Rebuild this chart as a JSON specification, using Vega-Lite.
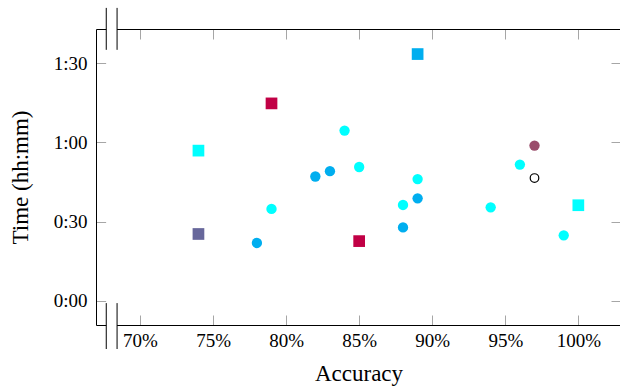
{
  "$schema": "https://vega.github.io/schema/vega-lite/v6.json",
  "width": 525,
  "height": 296,
  "autosize": {"type": "none"},
  "padding": {"left": 96, "top": 29, "right": 0, "bottom": 63},
  "background": "white",
  "config": {
    "view": {"stroke": null},
    "axis": {
      "labelFont": "Liberation Serif",
      "titleFont": "Liberation Serif",
      "labelFontSize": 19,
      "titleFontSize": 23,
      "titleFontWeight": "normal",
      "labelColor": "black",
      "titleColor": "black",
      "domainColor": "black",
      "domainWidth": 1,
      "tickColor": "#a6a6a6",
      "tickSize": -10,
      "tickWidth": 1,
      "grid": false
    }
  },
  "datasets": {
    "points": [
      {"acc": 89, "time": 93.5, "group": "blue", "kind": "square"},
      {"acc": 79, "time": 74.8, "group": "red", "kind": "square"},
      {"acc": 74, "time": 56.9, "group": "cyan", "kind": "square"},
      {"acc": 74, "time": 25.3, "group": "slate", "kind": "square"},
      {"acc": 85, "time": 22.6, "group": "red", "kind": "square"},
      {"acc": 100, "time": 36.2, "group": "cyan", "kind": "square"},
      {"acc": 84, "time": 64.5, "group": "cyan", "kind": "circle"},
      {"acc": 97, "time": 58.8, "group": "maroon", "kind": "circle"},
      {"acc": 85, "time": 50.7, "group": "cyan", "kind": "circle"},
      {"acc": 96, "time": 51.6, "group": "cyan", "kind": "circle"},
      {"acc": 83, "time": 49.1, "group": "blue", "kind": "circle"},
      {"acc": 82, "time": 47.1, "group": "blue", "kind": "circle"},
      {"acc": 89, "time": 46.1, "group": "cyan", "kind": "circle"},
      {"acc": 97, "time": 46.5, "group": "open", "kind": "circle"},
      {"acc": 89, "time": 38.8, "group": "blue", "kind": "circle"},
      {"acc": 88, "time": 36.3, "group": "cyan", "kind": "circle"},
      {"acc": 79, "time": 34.8, "group": "cyan", "kind": "circle"},
      {"acc": 94, "time": 35.4, "group": "cyan", "kind": "circle"},
      {"acc": 88, "time": 27.8, "group": "blue", "kind": "circle"},
      {"acc": 78, "time": 21.9, "group": "blue", "kind": "circle"},
      {"acc": 99, "time": 24.8, "group": "cyan", "kind": "circle"}
    ],
    "gap": [
      {"a0": 67.69, "a1": 68.43, "t0": -12, "t1": 106}
    ],
    "bars": [
      {"a": 67.69, "t0": 95.1, "t1": 111.0},
      {"a": 68.43, "t0": 95.1, "t1": 111.0},
      {"a": 67.69, "t0": -18.3, "t1": -0.9},
      {"a": 68.43, "t0": -18.3, "t1": -0.9}
    ]
  },
  "layer": [
    {
      "data": {"name": "gap"},
      "mark": {"type": "rect", "color": "white"},
      "encoding": {
        "x": {"field": "a0", "type": "quantitative",
              "scale": {"domain": [66.988, 102.92], "nice": false, "zero": false},
              "axis": {"orient": "top", "labels": false, "title": null, "values": [70, 75, 80, 85, 90, 95, 100]}},
        "x2": {"field": "a1"},
        "y": {"field": "t0", "type": "quantitative",
              "scale": {"domain": [-9.2, 103], "nice": false, "zero": false},
              "axis": {"orient": "right", "labels": false, "title": null, "values": [0, 30, 60, 90]}},
        "y2": {"field": "t1"}
      }
    },
    {
      "data": {"name": "bars"},
      "mark": {"type": "rule", "color": "black", "strokeWidth": 1},
      "encoding": {
        "x": {"field": "a", "type": "quantitative", "axis": null},
        "y": {"field": "t0", "type": "quantitative", "axis": null},
        "y2": {"field": "t1"}
      }
    },
    {
      "data": {"name": "points"},
      "transform": [{"filter": "datum.group !== 'open'"}],
      "mark": {"type": "point", "filled": true, "opacity": 1},
      "encoding": {
        "x": {"field": "acc", "type": "quantitative",
              "axis": {"orient": "bottom", "title": "Accuracy", "values": [70, 75, 80, 85, 90, 95, 100],
                       "labelExpr": "datum.value + '%'", "labelPadding": 16, "titlePadding": 12}},
        "y": {"field": "time", "type": "quantitative",
              "axis": {"orient": "left", "title": "Time (hh:mm)", "values": [0, 30, 60, 90],
                       "labelExpr": "floor(datum.value / 60) + ':' + (datum.value % 60 < 10 ? '0' : '') + (datum.value % 60)",
                       "labelPadding": 19, "titlePadding": 21}},
        "color": {"field": "group", "type": "nominal",
                  "scale": {"domain": ["cyan", "blue", "red", "slate", "maroon"],
                            "range": ["#00ffff", "#00aeef", "#c10045", "#67679b", "#9a4d6b"]},
                  "legend": null},
        "shape": {"field": "kind", "type": "nominal",
                  "scale": {"domain": ["circle", "square"], "range": ["circle", "square"]},
                  "legend": null},
        "size": {"field": "kind", "type": "ordinal",
                 "scale": {"domain": ["circle", "square"], "range": [107, 137]},
                 "legend": null}
      }
    },
    {
      "data": {"name": "points"},
      "transform": [{"filter": "datum.group === 'open'"}],
      "mark": {"type": "point", "shape": "circle", "filled": false, "fill": "white", "stroke": "black", "strokeWidth": 1.2, "size": 74, "opacity": 1},
      "encoding": {
        "x": {"field": "acc", "type": "quantitative", "axis": null},
        "y": {"field": "time", "type": "quantitative", "axis": null}
      }
    }
  ],
  "resolve": {"axis": {"x": "independent", "y": "independent"}}
}
